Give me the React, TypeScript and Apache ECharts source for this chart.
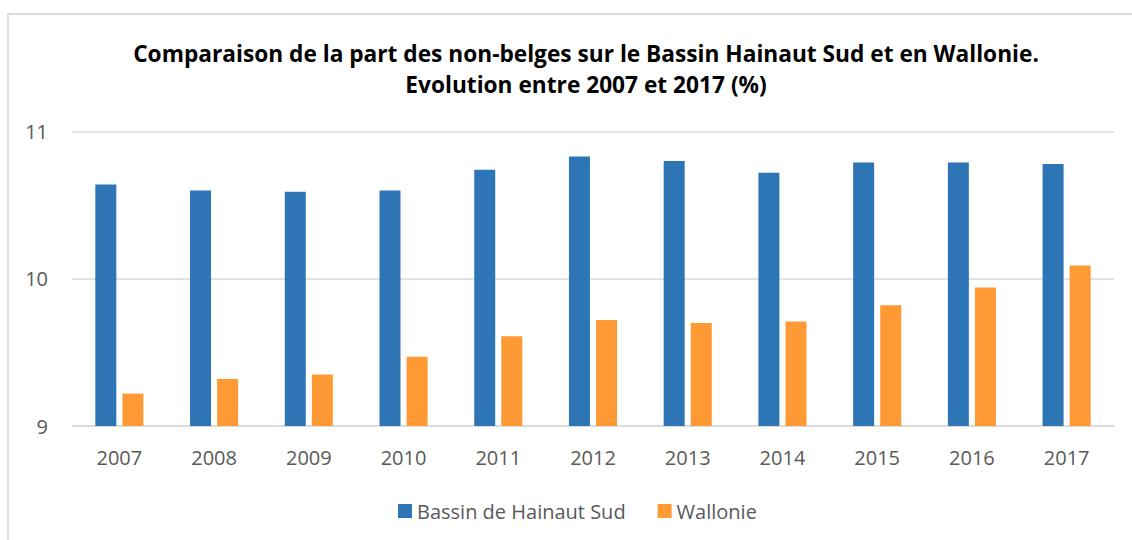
import React, { useEffect, useRef } from "react";
import * as echarts from "echarts";

const categories = ["2007", "2008", "2009", "2010", "2011", "2012", "2013", "2014", "2015", "2016", "2017"];
const hainautSud = [10.64, 10.6, 10.59, 10.6, 10.74, 10.83, 10.8, 10.72, 10.79, 10.79, 10.78];
const wallonie = [9.22, 9.32, 9.35, 9.47, 9.61, 9.72, 9.7, 9.71, 9.82, 9.94, 10.09];
const seriesNames = ["Bassin de Hainaut Sud", "Wallonie"];
const titleLines = [
  "Comparaison de la part des non-belges sur le Bassin Hainaut Sud et en Wallonie.",
  "Evolution entre 2007 et 2017 (%)",
];

const FONT = "'Open Sans', 'Noto Sans', sans-serif";

export default function App() {
  const ref = useRef<HTMLDivElement>(null);
  useEffect(() => {
    if (!ref.current) return;
    const chart = echarts.init(ref.current, null, { renderer: "svg" });
    chart.setOption({
      animation: false,
      backgroundColor: "#ffffff",
      textStyle: { fontFamily: FONT },
      graphic: [
        {
          type: "rect",
          shape: { x: 8, y: 14, width: 1200, height: 600 },
          style: { fill: "none", stroke: "#d0d0d0", lineWidth: 1.5 },
          silent: true,
        },
        {
          type: "text",
          x: 586,
          y: 38,
          style: {
            text: titleLines.join("\n"),
            fontFamily: FONT,
            fontWeight: "bold",
            fontSize: 22.7,
            lineHeight: 31,
            fill: "#000000",
            align: "center",
            verticalAlign: "top",
          },
        },
      ],
      legend: {
        data: seriesNames,
        left: 393,
        top: 496,
        itemWidth: 14,
        itemHeight: 14,
        itemGap: 32,
        icon: "rect",
        textStyle: { fontSize: 20, color: "#595959", fontFamily: FONT },
      },
      grid: { left: 72, right: 18, top: 131.5, bottom: 114 },
      xAxis: {
        type: "category",
        data: categories,
        axisLine: { lineStyle: { color: "#d9d9d9", width: 1.5 } },
        axisTick: { show: false },
        axisLabel: { fontSize: 20, color: "#595959", margin: 21, fontFamily: FONT },
      },
      yAxis: {
        type: "value",
        min: 9,
        max: 11,
        interval: 1,
        axisLine: { show: false },
        axisTick: { show: false },
        axisLabel: { fontSize: 20, color: "#595959", margin: 24, fontFamily: FONT },
        splitLine: { lineStyle: { color: "#d9d9d9", width: 1.5 } },
      },
      series: [
        {
          name: seriesNames[0],
          type: "bar",
          data: hainautSud,
          barWidth: 21,
          barGap: "29%",
          itemStyle: { color: "#2E75B6" },
        },
        {
          name: seriesNames[1],
          type: "bar",
          data: wallonie,
          barWidth: 21,
          itemStyle: { color: "#FF9933" },
        },
      ],
    });
    return () => chart.dispose();
  }, []);
  return (
    <div
      ref={ref}
      style={{ position: "fixed", left: 0, top: 0, width: 1132, height: 540 }}
    />
  );
}
